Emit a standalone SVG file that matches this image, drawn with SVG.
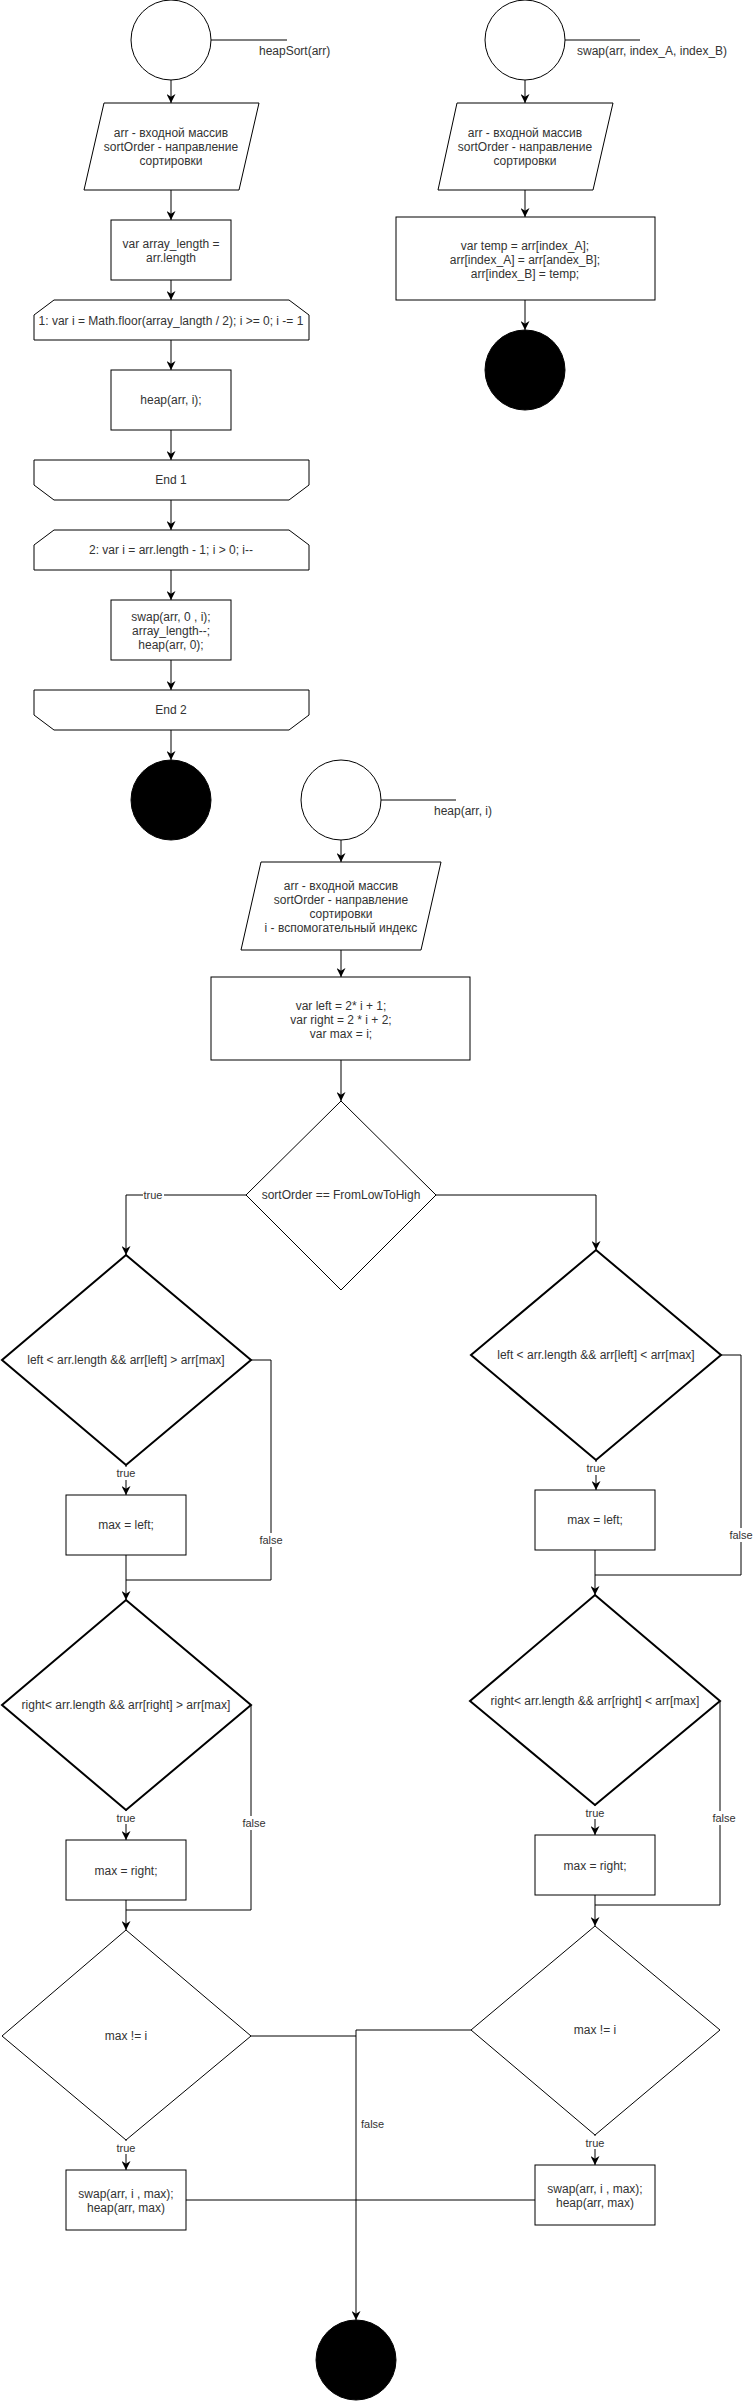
<svg xmlns="http://www.w3.org/2000/svg" width="755" height="2401" viewBox="0 0 755 2401">
<style>
.n{fill:#fff;stroke:#000;stroke-width:1}
.k{fill:#000;stroke:#000;stroke-width:1}
.w2{stroke-width:2}
.t{font-family:"Liberation Sans",Arial,Helvetica,sans-serif;font-size:12px;fill:#333;text-anchor:middle}
.s{text-anchor:start}
.l{font-size:11px}
.e{fill:none;stroke:#000;stroke-width:1}
.bg{fill:#fff}
</style>
<defs>
<marker id="a" viewBox="0 0 10 10" refX="10" refY="5" markerWidth="9" markerHeight="9" markerUnits="userSpaceOnUse" orient="auto">
<path d="M0,0 L10,5 L0,10 L3,5 Z" fill="#000"/>
</marker>
</defs>
<rect width="755" height="2401" fill="#fff"/>

<g id="connectors">
<path class="e" d="M171,80 V103" marker-end="url(#a)"/>
<path class="e" d="M171,190 V220" marker-end="url(#a)"/>
<path class="e" d="M171,280 V300" marker-end="url(#a)"/>
<path class="e" d="M171,340 V370" marker-end="url(#a)"/>
<path class="e" d="M171,430 V460" marker-end="url(#a)"/>
<path class="e" d="M171,500 V530" marker-end="url(#a)"/>
<path class="e" d="M171,570 V600" marker-end="url(#a)"/>
<path class="e" d="M171,660 V690" marker-end="url(#a)"/>
<path class="e" d="M171,730 V760" marker-end="url(#a)"/>

<path class="e" d="M525,80 V103" marker-end="url(#a)"/>
<path class="e" d="M525,190 V217" marker-end="url(#a)"/>
<path class="e" d="M525,300 V330" marker-end="url(#a)"/>

<path class="e" d="M341,840 V862" marker-end="url(#a)"/>
<path class="e" d="M341,950 V977" marker-end="url(#a)"/>
<path class="e" d="M341,1060 V1101" marker-end="url(#a)"/>

<path class="e" d="M246,1195 H126 V1255" marker-end="url(#a)"/>
<path class="e" d="M436,1195 H596 V1250" marker-end="url(#a)"/>

<path class="e" d="M126,1465 V1495" marker-end="url(#a)"/>
<path class="e" d="M251,1360 H271 V1580 H126"/>
<path class="e" d="M126,1555 V1600" marker-end="url(#a)"/>
<path class="e" d="M126,1810 V1840" marker-end="url(#a)"/>
<path class="e" d="M251,1705 V1910 H126"/>
<path class="e" d="M126,1900 V1930" marker-end="url(#a)"/>
<path class="e" d="M126,2140 V2170" marker-end="url(#a)"/>
<path class="e" d="M251,2036 H356"/>

<path class="e" d="M596,1460 V1490" marker-end="url(#a)"/>
<path class="e" d="M721,1355 H741 V1575 H595"/>
<path class="e" d="M595,1550 V1595" marker-end="url(#a)"/>
<path class="e" d="M595,1805 V1835" marker-end="url(#a)"/>
<path class="e" d="M720,1701 V1905 H595"/>
<path class="e" d="M595,1895 V1926" marker-end="url(#a)"/>
<path class="e" d="M595,2135 V2165" marker-end="url(#a)"/>
<path class="e" d="M471,2030 H356 V2320" stroke-width="1.6" marker-end="url(#a)"/>
<path class="e" d="M186,2200 H535"/>

<rect class="bg" x="143" y="1188" width="21" height="14"/>
<text class="t l" x="153" y="1199">true</text>
<rect class="bg" x="116" y="1467" width="21" height="13"/>
<text class="t l" x="126" y="1477">true</text>
<rect class="bg" x="260" y="1533" width="23" height="14"/>
<text class="t l" x="271" y="1544">false</text>
<rect class="bg" x="116" y="1811" width="21" height="13"/>
<text class="t l" x="126" y="1822">true</text>
<rect class="bg" x="242" y="1816" width="23" height="14"/>
<text class="t l" x="254" y="1827">false</text>
<rect class="bg" x="116" y="2141" width="21" height="13"/>
<text class="t l" x="126" y="2152">true</text>
<text class="t l s" x="361" y="2128">false</text>
<rect class="bg" x="586" y="1462" width="21" height="13"/>
<text class="t l" x="596" y="1472">true</text>
<rect class="bg" x="730" y="1528" width="23" height="14"/>
<text class="t l" x="741" y="1539">false</text>
<rect class="bg" x="585" y="1806" width="21" height="13"/>
<text class="t l" x="595" y="1817">true</text>
<rect class="bg" x="713" y="1811" width="23" height="14"/>
<text class="t l" x="724" y="1822">false</text>
<rect class="bg" x="585" y="2136" width="21" height="13"/>
<text class="t l" x="595" y="2147">true</text>
</g>

<g id="start-heapSort">
<circle class="n" cx="171" cy="40" r="40"/>
<path class="e" d="M211,40 H287"/>
<text class="t s" x="259" y="55">heapSort(arr)</text>
</g>
<g id="input-heapSort">
<polygon class="n" points="104,103 259,103 239,190 84,190"/>
<text class="t" x="171" y="137">arr - входной массив</text>
<text class="t" x="171" y="151">sortOrder - направление</text>
<text class="t" x="171" y="165">сортировки</text>
</g>
<g id="array-length">
<rect class="n" x="111" y="220" width="120" height="60"/>
<text class="t" x="171" y="248">var array_length =</text>
<text class="t" x="171" y="262">arr.length</text>
</g>
<g id="loop1">
<polygon class="n" points="54,300 289,300 309,315 309,340 34,340 34,315"/>
<text class="t" x="171" y="325">1: var i = Math.floor(array_langth / 2); i &gt;= 0; i -= 1</text>
</g>
<g id="heap-call">
<rect class="n" x="111" y="370" width="120" height="60"/>
<text class="t" x="171" y="404">heap(arr, i);</text>
</g>
<g id="end1">
<polygon class="n" points="34,460 309,460 309,485 289,500 54,500 34,485"/>
<text class="t" x="171" y="484">End 1</text>
</g>
<g id="loop2">
<polygon class="n" points="54,530 289,530 309,545 309,570 34,570 34,545"/>
<text class="t" x="171" y="554">2: var i = arr.length - 1; i &gt; 0; i--</text>
</g>
<g id="swap-call">
<rect class="n" x="111" y="600" width="120" height="60"/>
<text class="t" x="171" y="621">swap(arr, 0 , i);</text>
<text class="t" x="171" y="635">array_length--;</text>
<text class="t" x="171" y="649">heap(arr, 0);</text>
</g>
<g id="end2">
<polygon class="n" points="34,690 309,690 309,715 289,730 54,730 34,715"/>
<text class="t" x="171" y="714">End 2</text>
</g>
<g id="stop-heapSort">
<circle class="k" cx="171" cy="800" r="40"/>
</g>

<g id="start-swap">
<circle class="n" cx="525" cy="40" r="40"/>
<path class="e" d="M565,40 H640"/>
<text class="t s" x="577" y="55">swap(arr, index_A, index_B)</text>
</g>
<g id="input-swap">
<polygon class="n" points="457,103 613,103 593,190 438,190"/>
<text class="t" x="525" y="137">arr - входной массив</text>
<text class="t" x="525" y="151">sortOrder - направление</text>
<text class="t" x="525" y="165">сортировки</text>
</g>
<g id="swap-body">
<rect class="n" x="396" y="217" width="259" height="83"/>
<text class="t" x="525" y="250">var temp = arr[index_A];</text>
<text class="t" x="525" y="264">arr[index_A] = arr[andex_B];</text>
<text class="t" x="525" y="278">arr[index_B] = temp;</text>
</g>
<g id="stop-swap">
<circle class="k" cx="525" cy="370" r="40"/>
</g>

<g id="start-heap">
<circle class="n" cx="341" cy="800" r="40"/>
<path class="e" d="M381,800 H456"/>
<text class="t s" x="434" y="815">heap(arr, i)</text>
</g>
<g id="input-heap">
<polygon class="n" points="261,862 441,862 421,950 241,950"/>
<text class="t" x="341" y="890">arr - входной массив</text>
<text class="t" x="341" y="904">sortOrder - направление</text>
<text class="t" x="341" y="918">сортировки</text>
<text class="t" x="341" y="932">i - вспомогательный индекс</text>
</g>
<g id="init-heap">
<rect class="n" x="211" y="977" width="259" height="83"/>
<text class="t" x="341" y="1010">var left = 2* i + 1;</text>
<text class="t" x="341" y="1024">var right = 2 * i + 2;</text>
<text class="t" x="341" y="1038">var max = i;</text>
</g>
<g id="cond-order">
<polygon class="n" points="341,1101 436,1195 341,1290 246,1195"/>
<text class="t" x="341" y="1199">sortOrder == FromLowToHigh</text>
</g>

<g id="cond-left-L">
<polygon class="n w2" points="126,1255 251,1360 126,1465 2,1360"/>
<text class="t" x="126" y="1364">left &lt; arr.length &amp;&amp; arr[left] &gt; arr[max]</text>
</g>
<g id="set-left-L">
<rect class="n" x="66" y="1495" width="120" height="60"/>
<text class="t" x="126" y="1529">max = left;</text>
</g>
<g id="cond-right-L">
<polygon class="n w2" points="126,1600 251,1705 126,1810 2,1705"/>
<text class="t" x="126" y="1709">right&lt; arr.length &amp;&amp; arr[right] &gt; arr[max]</text>
</g>
<g id="set-right-L">
<rect class="n" x="66" y="1840" width="120" height="60"/>
<text class="t" x="126" y="1875">max = right;</text>
</g>
<g id="cond-max-L">
<polygon class="n" points="126,1930 251,2036 126,2140 2,2036"/>
<text class="t" x="126" y="2040">max != i</text>
</g>
<g id="swap-heap-L">
<rect class="n" x="66" y="2170" width="120" height="60"/>
<text class="t" x="126" y="2198">swap(arr, i , max);</text>
<text class="t" x="126" y="2212">heap(arr, max)</text>
</g>

<g id="cond-left-R">
<polygon class="n w2" points="596,1250 721,1355 596,1460 471,1355"/>
<text class="t" x="596" y="1359">left &lt; arr.length &amp;&amp; arr[left] &lt; arr[max]</text>
</g>
<g id="set-left-R">
<rect class="n" x="535" y="1490" width="120" height="60"/>
<text class="t" x="595" y="1524">max = left;</text>
</g>
<g id="cond-right-R">
<polygon class="n w2" points="595,1595 720,1701 595,1805 470,1701"/>
<text class="t" x="595" y="1705">right&lt; arr.length &amp;&amp; arr[right] &lt; arr[max]</text>
</g>
<g id="set-right-R">
<rect class="n" x="535" y="1835" width="120" height="60"/>
<text class="t" x="595" y="1870">max = right;</text>
</g>
<g id="cond-max-R">
<polygon class="n" points="595,1926 720,2030 595,2135 471,2030"/>
<text class="t" x="595" y="2034">max != i</text>
</g>
<g id="swap-heap-R">
<rect class="n" x="535" y="2165" width="120" height="60"/>
<text class="t" x="595" y="2193">swap(arr, i , max);</text>
<text class="t" x="595" y="2207">heap(arr, max)</text>
</g>

<g id="stop-heap">
<circle class="k" cx="356" cy="2360" r="40"/>
</g>
</svg>
